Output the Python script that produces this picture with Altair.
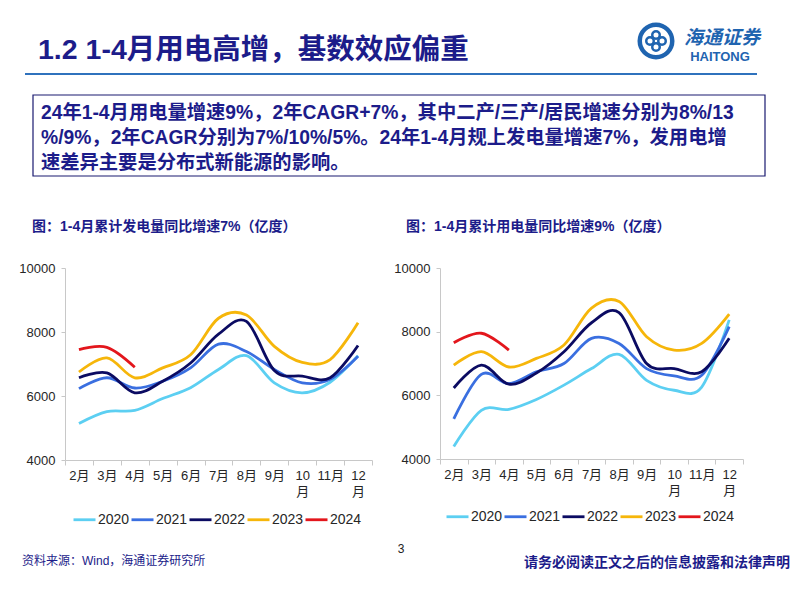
import altair as alt
import pandas as pd

months = ["2月", "3月", "4月", "5月", "6月", "7月", "8月", "9月", "10月", "11月", "12月"]
years = ["2020", "2021", "2022", "2023", "2024"]
colors = ["#5ccff2", "#3a6fe0", "#0b0b62", "#f6b60a", "#e3161c"]

# 发电量 (亿度)
gen_2020 = [5140, 5510, 5550, 5920, 6260, 6830, 7260, 6410, 6100, 6430, 7260]
gen_2021 = [6230, 6570, 6250, 6460, 6880, 7620, 7390, 6830, 6410, 6520, 7240]
gen_2022 = [6570, 6720, 6100, 6460, 7030, 7930, 8330, 6800, 6620, 6570, 7580]
gen_2023 = [6750, 7190, 6570, 6880, 7290, 8430, 8530, 7550, 7050, 7140, 8290]
gen_2024 = [7450, 7520, 6900]

# 用电量 (亿度)
use_2020 = [4390, 5530, 5560, 5870, 6320, 6840, 7290, 6470, 6160, 6260, 8370]
use_2021 = [5260, 6660, 6370, 6740, 7000, 7790, 7630, 6840, 6610, 6630, 8160]
use_2022 = [6230, 6950, 6350, 6700, 7370, 8280, 8600, 7000, 6840, 6740, 7790]
use_2023 = [6950, 7370, 6890, 7160, 7580, 8740, 8950, 7840, 7420, 7630, 8550]
use_2024 = [7650, 7950, 7420]

y_ticks = [4000, 6000, 8000, 10000]

page_title = "1.2 1-4月用电高增，基数效应偏重"
box_lines = [
    "24年1-4月用电量增速9%，2年CAGR+7%，其中二产/三产/居民增速分别为8%/13",
    "%/9%，2年CAGR分别为7%/10%/5%。24年1-4月规上发电量增速7%，发用电增",
    "速差异主要是分布式新能源的影响。",
]
left_title = "图：1-4月累计发电量同比增速7%（亿度）"
right_title = "图：1-4月累计用电量同比增速9%（亿度）"
source_text = "资料来源：Wind，海通证券研究所"
page_no = "3"
disclaimer = "请务必阅读正文之后的信息披露和法律声明"

NAVY = "#1c1c8a"
FONT = "Liberation Sans, Noto Sans CJK SC"


def long_df(series):
    rows = []
    for yr, vals in zip(years, series):
        for m, v in zip(months, vals):
            rows.append({"month": m, "year": yr, "value": v})
    return pd.DataFrame(rows)


gen_df = long_df([gen_2020, gen_2021, gen_2022, gen_2023, gen_2024])
use_df = long_df([use_2020, use_2021, use_2022, use_2023, use_2024])

label_expr = "(datum.label == '10月' || datum.label == '12月') ? [slice(datum.label, 0, 2), '月'] : datum.label"


def line_chart(df, xr, yr, x_off, y_off, leg_x, leg_y):
    return alt.Chart(df).mark_line(interpolate="cardinal", strokeWidth=2.8).encode(
        x=alt.X("month:N", sort=months,
                scale=alt.Scale(type="band", domain=months, range=xr, paddingInner=0, paddingOuter=0),
                axis=alt.Axis(orient="bottom", offset=y_off, tickBand="extent", title=None, labelAngle=0,
                              labelFontSize=13, labelFont=FONT, labelColor="#262626",
                              domainColor="#c8c8c8", tickColor="#c8c8c8", tickSize=5, labelPadding=4,
                              labelExpr=label_expr, labelLineHeight=16, grid=False)),
        y=alt.Y("value:Q",
                scale=alt.Scale(domain=[4000, 10000], range=yr, nice=False, zero=False),
                axis=alt.Axis(orient="left", offset=x_off, values=y_ticks, format="d", grid=False, title=None,
                              tickSize=4, labelPadding=6, labelFontSize=13, labelFont=FONT,
                              labelColor="#262626", domainColor="#c8c8c8", tickColor="#c8c8c8")),
        color=alt.Color("year:N", scale=alt.Scale(domain=years, range=colors),
                        legend=alt.Legend(orient="none", legendX=leg_x, legendY=leg_y, direction="horizontal",
                                          columns=5, title=None, symbolType="stroke", symbolSize=484,
                                          symbolStrokeWidth=2.8, labelFontSize=14, labelFont=FONT,
                                          labelColor="#262626", labelOffset=1, columnPadding=-9, padding=0)),
        order=alt.Order("year:N"),
    )


left = line_chart(gen_df, [57, 364], [452, 260], -57, -134, 64, 499)
right = line_chart(use_df, [432, 735], [451, 260], -432, -135, 437, 496)


def txt(text, x, y, size, weight="normal", color=NAVY, align="left", style="normal", font=FONT):
    return alt.Chart().mark_text(align=align, baseline="middle", fontSize=size, fontWeight=weight,
                                 color=color, font=font, fontStyle=style).encode(
        x=alt.value(x), y=alt.value(y), text=alt.value(text))


layers = [left, right]
layers.append(txt(page_title, 30, 42, 28.5, "bold"))
for i, line in enumerate(box_lines):
    layers.append(txt(line, 33, 105 + i * 25, 19.3, "bold"))
layers.append(txt(left_title, 24, 219, 14, "bold"))
layers.append(txt(right_title, 398, 219, 14, "bold"))
layers.append(txt(source_text, 14, 553, 12))
layers.append(txt(page_no, 393, 541, 12, color="#222222", align="center"))
layers.append(txt(disclaimer, 782, 555, 14, "bold", align="right"))

# title rule
layers.append(alt.Chart().mark_rule(color="#2f72bd", strokeWidth=2).encode(
    x=alt.value(17), x2=alt.value(749), y=alt.value(66)))
# text box
layers.append(alt.Chart().mark_rect(fill=None, stroke="#1a1a70", strokeWidth=1.2).encode(
    x=alt.value(25), x2=alt.value(757), y=alt.value(87), y2=alt.value(168)))

# logo
LOGO = "#1f64b0"
layers.append(alt.Chart().mark_arc(theta=0, theta2=6.2832, innerRadius=14, outerRadius=18.5, color=LOGO).encode(
    x=alt.value(648), y=alt.value(33)))
for dx, dy in [(0, -6), (6, 0), (0, 6), (-6, 0)]:
    layers.append(alt.Chart().mark_arc(theta=0, theta2=6.2832, innerRadius=2.5, outerRadius=5, color=LOGO).encode(
        x=alt.value(648 + dx), y=alt.value(33 + dy)))
layers.append(txt("海通证券", 714, 30, 19, "bold", color=LOGO, align="center", style="italic"))
layers.append(txt("HAITONG", 712, 49, 13, "bold", color=LOGO, align="center"))

chart = alt.layer(*layers).resolve_scale(
    x="independent", y="independent", color="independent"
).properties(
    width=786, height=586, autosize=alt.AutoSizeParams(type="none"), padding=0
).configure_view(stroke=None)

chart.save("out.html", embed_options={"renderer": "svg", "actions": False})
